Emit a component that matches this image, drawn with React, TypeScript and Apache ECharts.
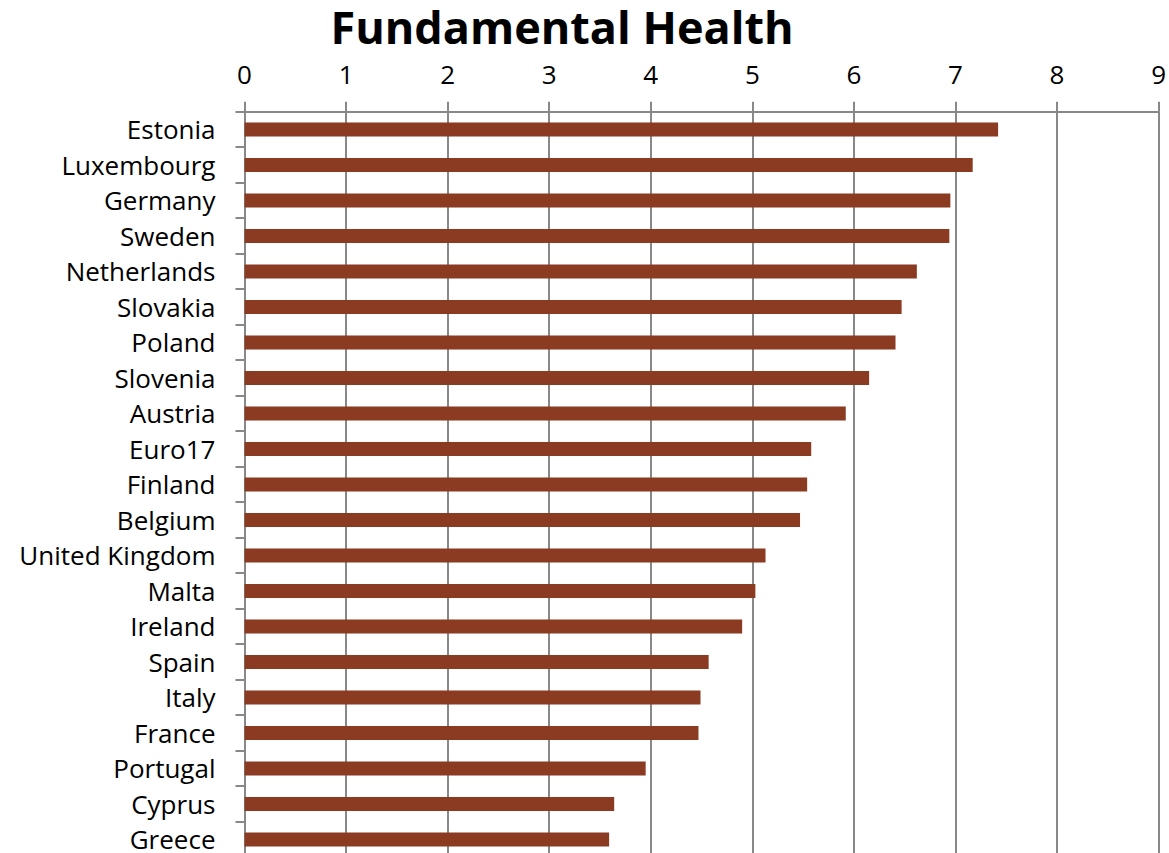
import React, { useEffect, useRef } from "react";
import * as echarts from "echarts";

const countries = [
  "Estonia", "Luxembourg", "Germany", "Sweden", "Netherlands", "Slovakia", "Poland",
  "Slovenia", "Austria", "Euro17", "Finland", "Belgium", "United Kingdom", "Malta",
  "Ireland", "Spain", "Italy", "France", "Portugal", "Cyprus", "Greece",
];
const values = [
  7.42, 7.17, 6.95, 6.94, 6.62, 6.47, 6.41, 6.15, 5.92, 5.58, 5.54, 5.47, 5.13,
  5.03, 4.9, 4.57, 4.49, 4.47, 3.95, 3.64, 3.59,
];
const titleText = "Fundamental Health";

export default function App() {
  const ref = useRef<HTMLDivElement>(null);
  useEffect(() => {
    if (!ref.current) return;
    const chart = echarts.init(ref.current, null, { renderer: "svg" });
    const gray = "#888888";
    chart.setOption({
      animation: false,
      backgroundColor: "#ffffff",
      title: {
        text: titleText,
        left: 562,
        textAlign: "center",
        top: 3,
        padding: 0,
        textStyle: { fontFamily: "Open Sans", fontWeight: "bold", fontSize: 45, lineHeight: 46, color: "#000" },
      },
      grid: { left: 244.5, right: 8.3, top: 111.7, height: 745.5 },
      xAxis: {
        type: "value",
        position: "top",
        min: 0,
        max: 9,
        interval: 1,
        axisLine: { show: true, lineStyle: { color: gray, width: 2 } },
        axisTick: { show: true, length: 10, lineStyle: { color: gray, width: 2 } },
        splitLine: { show: true, lineStyle: { color: gray, width: 2 } },
        axisLabel: { fontFamily: "Open Sans", fontSize: 26, lineHeight: 22, color: "#000", margin: 27 },
      },
      yAxis: {
        type: "category",
        inverse: true,
        data: countries,
        axisLine: { show: true, lineStyle: { color: gray, width: 2 } },
        axisTick: { show: true, length: 9, lineStyle: { color: gray, width: 2 } },
        axisLabel: { fontFamily: "Open Sans", fontSize: 26, lineHeight: 22, color: "#000", margin: 29 },
      },
      series: [
        {
          type: "bar",
          data: values,
          barWidth: 14,
          itemStyle: { color: "#8A3B21" },
        },
      ],
    });
    return () => chart.dispose();
  }, []);
  return (
    <div style={{ position: "fixed", left: 0, top: 0, width: 1169, height: 853, overflow: "hidden", background: "#fff" }}>
      <div ref={ref} style={{ width: 1169, height: 860 }} />
    </div>
  );
}
